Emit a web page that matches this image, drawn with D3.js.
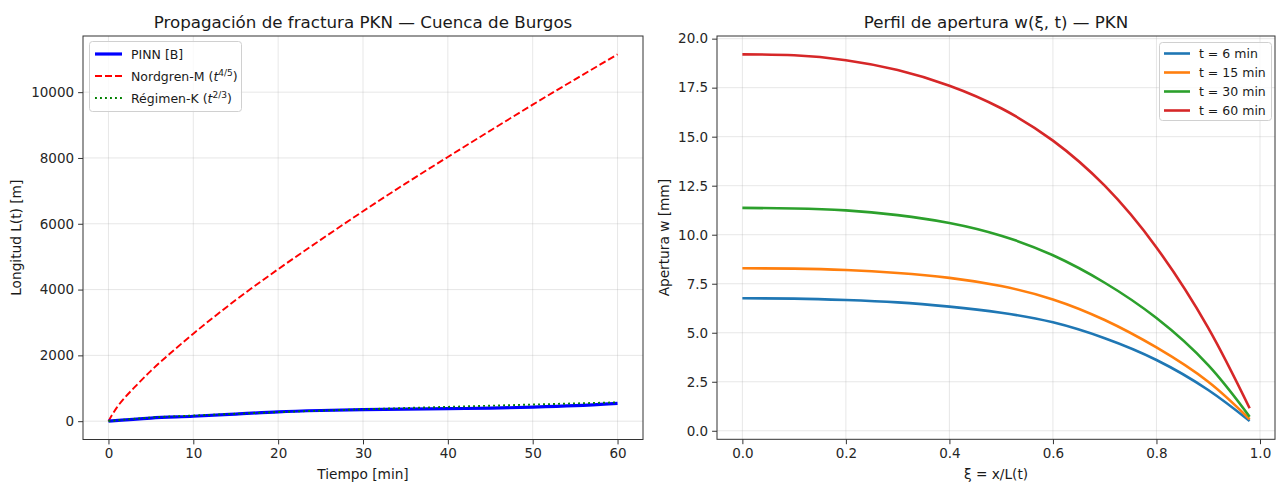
<!DOCTYPE html>
<html>
<head>
<meta charset="utf-8">
<script src="https://cdn.jsdelivr.net/npm/d3@7"></script>
<style>
  body { margin: 0; background: #fff; }
  svg { font-family: "DejaVu Sans", sans-serif; }
  .tick text { font-size: 13.5px; fill: #262626; }
</style>
</head>
<body>
<svg id="chart" width="1277" height="485"></svg>
<script>
// left panel: fracture length vs time
var tiempo = [0, 5, 10, 15, 20, 25, 30, 35, 40, 45, 50, 55, 60];
var pinn = [0, 95, 150, 215, 285, 325, 350, 365, 380, 395, 425, 470, 540];
var regimenK = [0, 110, 170, 225, 275, 320, 360, 400, 435, 470, 505, 540, 572];
var tiempoM = [0, 1, 2, 3, 5, 7.5, 10, 15, 20, 25, 30, 35, 40, 45, 50, 55, 60];
var nordgrenM = [0, 420, 735, 1010, 1530, 2110, 2660, 3680, 4620, 5510, 6380, 7220, 8030, 8830, 9620, 10390, 11150];
var xTicksL = [0, 10, 20, 30, 40, 50, 60];
var yTicksL = [0, 2000, 4000, 6000, 8000, 10000];

// right panel: opening profile
var xi = [0, 0.1, 0.2, 0.3, 0.4, 0.5, 0.6, 0.7, 0.8, 0.9, 0.98];
var w6 = [6.76, 6.74, 6.67, 6.55, 6.33, 6.02, 5.53, 4.72, 3.61, 2.08, 0.5];
var w15 = [8.29, 8.27, 8.2, 8.05, 7.8, 7.38, 6.7, 5.65, 4.25, 2.5, 0.59];
var w30 = [11.37, 11.34, 11.24, 11.0, 10.6, 9.95, 8.95, 7.55, 5.75, 3.35, 0.72];
var w60 = [19.2, 19.15, 18.9, 18.4, 17.6, 16.45, 14.8, 12.5, 9.35, 5.25, 1.15];
var perfilLabels = ["t = 6 min", "t = 15 min", "t = 30 min", "t = 60 min"];
var perfilColors = ["#1f77b4", "#ff7f0e", "#2ca02c", "#d62728"];
var xTicksR = [0, 0.2, 0.4, 0.6, 0.8, 1.0];
var yTicksR = [0, 2.5, 5, 7.5, 10, 12.5, 15, 17.5, 20];

var svg = d3.select("#chart");

function panel(x0, x1, y0, y1, xs, ys, xt, yt, yfmt, xfmt) {
  var g = svg.append("g");
  // grid
  g.selectAll(".gx").data(xt).enter().append("line")
    .attr("x1", function(d) { return xs(d); }).attr("x2", function(d) { return xs(d); })
    .attr("y1", y0).attr("y2", y1)
    .attr("stroke", "#b0b0b0").attr("stroke-opacity", 0.3).attr("stroke-width", 1);
  g.selectAll(".gy").data(yt).enter().append("line")
    .attr("y1", function(d) { return ys(d); }).attr("y2", function(d) { return ys(d); })
    .attr("x1", x0).attr("x2", x1)
    .attr("stroke", "#b0b0b0").attr("stroke-opacity", 0.3).attr("stroke-width", 1);

  var xa = g.append("g").attr("transform", "translate(0," + y1 + ")")
    .call(d3.axisBottom(xs).tickValues(xt).tickSize(4.9).tickPadding(4).tickFormat(xfmt));
  var ya = g.append("g").attr("transform", "translate(" + x0 + ",0)")
    .call(d3.axisLeft(ys).tickValues(yt).tickSize(4.9).tickPadding(4).tickFormat(yfmt));
  [xa, ya].forEach(function(a) {
    a.select(".domain").remove();
    a.selectAll("line").attr("stroke", "#333");
    a.selectAll("text").attr("font-family", "DejaVu Sans");
  });
  return g;
}

function frame(x0, x1, y0, y1) {
  svg.append("rect").attr("x", x0).attr("y", y0)
    .attr("width", x1 - x0).attr("height", y1 - y0)
    .attr("fill", "none").attr("stroke", "#333").attr("stroke-width", 1);
}

function text(x, y, s, size, anchor, rot) {
  var t = svg.append("text").attr("x", x).attr("y", y)
    .attr("font-size", size).attr("text-anchor", anchor || "middle").attr("fill", "#1a1a1a").text(s);
  if (rot) t.attr("transform", "rotate(" + rot + "," + x + "," + y + ")");
  return t;
}

// ---------- left panel ----------
var L = { x0: 83, x1: 643, y0: 36, y1: 439.5 };
var xL = d3.scaleLinear().domain([-3, 63]).range([L.x0, L.x1]);
var yL = d3.scaleLinear().domain([-557, 11707]).range([L.y1, L.y0]);
panel(L.x0, L.x1, L.y0, L.y1, xL, yL, xTicksL, yTicksL, d3.format("d"), d3.format("d"));

var lineL = d3.line().x(function(d) { return xL(d[0]); }).y(function(d) { return yL(d[1]); }).curve(d3.curveMonotoneX);

svg.append("path").datum(d3.zip(tiempoM, nordgrenM)).attr("d", lineL)
  .attr("fill", "none").attr("stroke", "#ff0000").attr("stroke-width", 1.9).attr("stroke-dasharray", "7,3");
svg.append("path").datum(d3.zip(tiempo, pinn)).attr("d", lineL)
  .attr("fill", "none").attr("stroke", "#0000ff").attr("stroke-width", 3.2);
svg.append("path").datum(d3.zip(tiempo, regimenK)).attr("d", lineL)
  .attr("fill", "none").attr("stroke", "#008000").attr("stroke-width", 1.9).attr("stroke-dasharray", "1.9,3.1");
frame(L.x0, L.x1, L.y0, L.y1);

text((L.x0 + L.x1) / 2, 28, "Propagación de fractura PKN — Cuenca de Burgos", 16.7);
text((L.x0 + L.x1) / 2, 479, "Tiempo [min]", 13.7);
text(21, (L.y0 + L.y1) / 2, "Longitud L(t) [m]", 13.7, "middle", -90);

// left legend
var legL = svg.append("g");
legL.append("rect").attr("x", 89.5).attr("y", 41.5).attr("width", 152).attr("height", 70).attr("rx", 3)
  .attr("fill", "#fff").attr("fill-opacity", 0.8).attr("stroke", "#d0d0d0");
var legItems = [
  { color: "#0000ff", w: 3.2, dash: null, label: "PINN [B]", sup: null },
  { color: "#ff0000", w: 1.9, dash: "7,3", label: "Nordgren-M (", sup: "4/5" },
  { color: "#008000", w: 1.9, dash: "1.9,3.1", label: "Régimen-K (", sup: "2/3" }
];
legItems.forEach(function(d, i) {
  var y = 54 + i * 22;
  legL.append("line").attr("x1", 95).attr("x2", 122).attr("y1", y).attr("y2", y)
    .attr("stroke", d.color).attr("stroke-width", d.w).attr("stroke-dasharray", d.dash);
  var t = legL.append("text").attr("x", 131).attr("y", y + 4.5).attr("font-size", 12.5).attr("fill", "#1a1a1a");
  t.append("tspan").text(d.label);
  if (d.sup) {
    t.append("tspan").attr("font-style", "italic").text("t");
    t.append("tspan").attr("font-size", 9).attr("dy", -5).text(d.sup);
    t.append("tspan").attr("dy", 5).text(")");
  }
});

// ---------- right panel ----------
var R = { x0: 717, x1: 1275, y0: 36, y1: 439.3 };
var xR = d3.scaleLinear().domain([-0.049, 1.029]).range([R.x0, R.x1]);
var yR = d3.scaleLinear().domain([-0.435, 20.135]).range([R.y1, R.y0]);
panel(R.x0, R.x1, R.y0, R.y1, xR, yR, xTicksR, yTicksR, d3.format(".1f"), d3.format(".1f"));

var lineR = d3.line().x(function(d) { return xR(d[0]); }).y(function(d) { return yR(d[1]); }).curve(d3.curveNatural);
[w6, w15, w30, w60].forEach(function(s, i) {
  svg.append("path").datum(d3.zip(xi, s)).attr("d", lineR)
    .attr("fill", "none").attr("stroke", perfilColors[i]).attr("stroke-width", 2.6);
});
frame(R.x0, R.x1, R.y0, R.y1);

text((R.x0 + R.x1) / 2, 28, "Perfil de apertura w(ξ, t) — PKN", 16.7);
text((R.x0 + R.x1) / 2, 479, "ξ = x/L(t)", 13.7);
text(669, (R.y0 + R.y1) / 2, "Apertura w [mm]", 13.7, "middle", -90);

var legR = svg.append("g");
legR.append("rect").attr("x", 1159.5).attr("y", 42.5).attr("width", 112).attr("height", 78).attr("rx", 3)
  .attr("fill", "#fff").attr("fill-opacity", 0.8).attr("stroke", "#d0d0d0");
perfilLabels.forEach(function(lbl, i) {
  var y = 53.5 + i * 19;
  legR.append("line").attr("x1", 1164).attr("x2", 1190).attr("y1", y).attr("y2", y)
    .attr("stroke", perfilColors[i]).attr("stroke-width", 2.6);
  legR.append("text").attr("x", 1199).attr("y", y + 4.5).attr("font-size", 12.5).attr("fill", "#1a1a1a").text(lbl);
});
</script>
</body>
</html>
